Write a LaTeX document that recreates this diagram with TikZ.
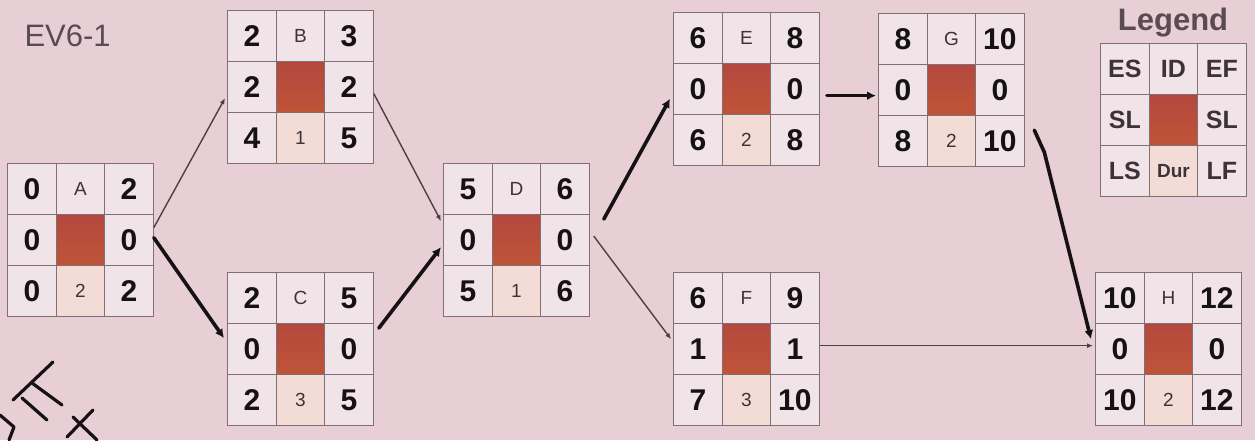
\documentclass[tikz,border=0pt]{standalone}
\usepackage{fontspec}
\setmainfont{Liberation Sans}
\usetikzlibrary{arrows.meta}
\definecolor{bg}{RGB}{231,207,213}
\definecolor{cellbg}{RGB}{241,228,233}
\definecolor{peach}{RGB}{243,220,214}
\definecolor{gridc}{RGB}{128,112,118}
\definecolor{ink}{RGB}{22,18,20}
\definecolor{thinink}{RGB}{80,62,68}
\definecolor{lettc}{RGB}{60,50,55}
\definecolor{redA}{RGB}{180,72,62}
\definecolor{redB}{RGB}{192,84,55}
\definecolor{titlec}{RGB}{88,76,82}
\tikzset{
 cell/.style={draw=gridc,line width=1.3pt,fill=cellbg,minimum width=48.5pt,minimum height=51pt,inner sep=0pt,anchor=north west},
 ctrcell/.style={draw=gridc,line width=1.3pt,top color=redA,bottom color=redB,minimum width=48.5pt,minimum height=51pt,inner sep=0pt,anchor=north west},
 durcell/.style={cell,fill=peach},
 hw/.style={font=\fontsize{30}{30}\selectfont\bfseries,text=ink},
 lett/.style={font=\fontsize{19}{19}\selectfont,text=lettc},
 thinarrow/.style={draw=thinink,line width=1.4pt,-{Latex[length=6pt,width=5pt]}},
 thickarrow/.style={draw=ink,line width=3.6pt,line cap=round,-{Latex[length=9pt,width=9pt]}},
 scrib/.style={draw=ink,line width=3.2pt,line cap=round,line join=round},
}
\newcommand\tbox[9]{\def\tbN{#1}\def\tbX{#2}\def\tbY{#3}\def\tbA{#4}\def\tbB{#5}\def\tbC{#6}\def\tbD{#7}\def\tbE{#8}\def\tbF{#9}\tboxrest}
\newcommand\tboxrest[2]{%
 \node[cell,hw] (\tbN-11) at (\tbX,\tbY) {\tbA};
 \node[cell,lett] (\tbN-12) at ({\tbX+48.5},\tbY) {\tbB};
 \node[cell,hw] (\tbN-13) at ({\tbX+97},\tbY) {\tbC};
 \node[cell,hw] (\tbN-21) at (\tbX,{\tbY+51}) {\tbD};
 \node[ctrcell] (\tbN-22) at ({\tbX+48.5},{\tbY+51}) {};
 \node[cell,hw] (\tbN-23) at ({\tbX+97},{\tbY+51}) {\tbE};
 \node[cell,hw] (\tbN-31) at (\tbX,{\tbY+102}) {\tbF};
 \node[durcell,lett] (\tbN-32) at ({\tbX+48.5},{\tbY+102}) {#1};
 \node[cell,hw] (\tbN-33) at ({\tbX+97},{\tbY+102}) {#2};
}
\begin{document}
\begin{tikzpicture}[x=1pt,y=-1pt]
\useasboundingbox (0,0) rectangle (1255,440);
\fill[bg] (0,0) rectangle (1255,440);

\node[anchor=base west,font=\fontsize{31}{31}\selectfont,text=titlec] (ev) at (21,46) {EV6-1};
\node[anchor=base,font=\fontsize{31}{31}\selectfont\bfseries,text=titlec] (leg) at (1173,30) {Legend};

\tbox{A}{7}{163}{0}{A}{2}{0}{0}{0}{2}{2}
\tbox{B}{227}{10}{2}{B}{3}{2}{2}{4}{1}{5}
\tbox{C}{227}{272}{2}{C}{5}{0}{0}{2}{3}{5}
\tbox{D}{443}{163}{5}{D}{6}{0}{0}{5}{1}{6}
\tbox{E}{673}{12}{6}{E}{8}{0}{0}{6}{2}{8}
\tbox{F}{673}{272}{6}{F}{9}{1}{1}{7}{3}{10}
\tbox{G}{878}{13}{8}{G}{10}{0}{0}{8}{2}{10}
\tbox{H}{1095}{272}{10}{H}{12}{0}{0}{10}{2}{12}
\begin{scope}[hw/.style={font=\fontsize{25}{25}\selectfont\bfseries,text=lettc},
              lett/.style={font=\fontsize{25}{25}\selectfont\bfseries,text=lettc}]
\tbox{L}{1100}{43}{ES}{ID}{EF}{SL}{SL}{LS}{{\fontsize{19}{19}\selectfont Dur}}{LF}
\end{scope}

% connectors
\draw[thinarrow] ([yshift=12.5pt]A-23.east) -- ([xshift=-2pt,yshift=-11pt]B-21.west);
\draw[thickarrow] ([yshift=2.5pt]A-23.east) -- ([xshift=-3pt,yshift=11pt]C-21.west);
\draw[thinarrow] ([yshift=-6.5pt]B-23.east) -- ([xshift=-2pt,yshift=19pt]D-21.west);
\draw[thickarrow] ([xshift=5pt,yshift=21pt]C-23.east) -- ([xshift=-2pt,yshift=-7pt]D-21.west);
\draw[thickarrow] ([xshift=14pt,yshift=21pt]D-23.east) -- ([xshift=-3pt,yshift=-9.5pt]E-21.west);
\draw[thinarrow] ([xshift=4pt,yshift=4pt]D-23.east) -- ([xshift=-2pt,yshift=10pt]F-21.west);
\draw[thickarrow] ([xshift=7pt,yshift=-6.5pt]E-23.east) -- ([xshift=-2pt,yshift=-5.5pt]G-21.west);
\draw[thickarrow,line join=round] ([xshift=9.5pt,yshift=-40pt]G-23.east) -- ++(10,22) -- ([xshift=-4pt,yshift=10pt]H-21.west);
\draw[thinarrow] ([yshift=3.5pt]F-23.east) -- ([xshift=-2pt,yshift=3.5pt]H-21.west);

% handwritten scribble, bottom left
\draw[scrib] (53,362) -- (13,400);
\draw[scrib] (32,383) -- (62,405);
\draw[scrib] (22,398) -- (47,420);
\draw[scrib] (67,437) -- (93,410);
\draw[scrib] (73,417) -- (97,440);
\draw[scrib] (0,415) -- (14,427) -- (9,440);
\end{tikzpicture}
\end{document}
